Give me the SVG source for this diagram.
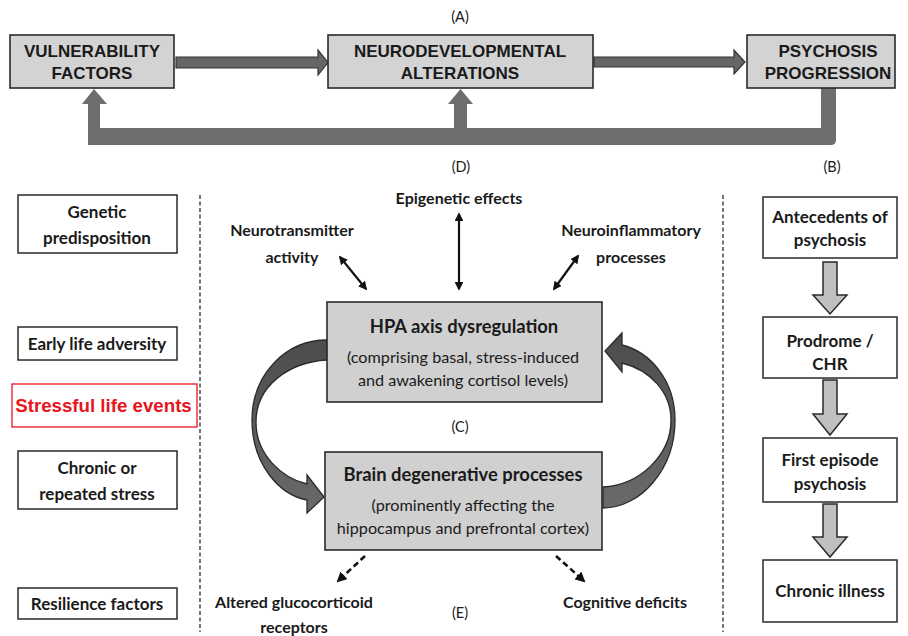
<svg xmlns="http://www.w3.org/2000/svg" width="908" height="636" viewBox="0 0 908 636">
<style>
.bg{fill:#ffffff}
.topbox{fill:#d3d3d3;stroke:#2a2a2a;stroke-width:1.6}
.wbox{fill:#ffffff;stroke:#2a2a2a;stroke-width:1.5}
.gbox{fill:#d0d0d0;stroke:#2a2a2a;stroke-width:1.6}
.tA{font-family:"Liberation Sans",Arial,sans-serif;font-weight:bold;font-size:17px;fill:#1a1a1a;text-anchor:middle}
.tC{font-family:Lato,"Open Sans",sans-serif;font-weight:bold;font-size:17px;fill:#1a1a1a;text-anchor:middle}
.tL{font-family:Lato,"Open Sans",sans-serif;font-weight:bold;font-size:16px;fill:#1a1a1a;text-anchor:middle}
.tT{font-family:Lato,"Open Sans",sans-serif;font-weight:bold;font-size:18.4px;fill:#1a1a1a;text-anchor:middle}
.tR{font-family:Lato,"Open Sans",sans-serif;font-size:16.2px;fill:#1a1a1a;text-anchor:middle}
.lab{font-family:Lato,"Open Sans",sans-serif;font-size:14.5px;fill:#1a1a1a;text-anchor:middle}
.red{font-family:"Liberation Sans",Arial,sans-serif;font-weight:bold;font-size:18.7px;fill:#e8141c;text-anchor:middle}
.harrow{fill:#666666;stroke:#333333;stroke-width:1.2}
.fb{fill:#6e6e6e}
.varrow{fill:#c0c0c0;stroke:#2a2a2a;stroke-width:1.5}
.dash{stroke:#2a2a2a;stroke-width:1.3;stroke-dasharray:4 2.5;fill:none}
.dbl{stroke:#111;stroke-width:2.2;fill:none;marker-start:url(#ah);marker-end:url(#ah)}
.dsh{stroke:#111;stroke-width:2.6;stroke-dasharray:6 3.5;fill:none;marker-end:url(#ah)}
.curve{fill:url(#cg);stroke:#2a2a2a;stroke-width:1.3}
</style>
<defs>
<marker id="ah" viewBox="0 0 10 10" refX="8" refY="5" markerWidth="4" markerHeight="4" orient="auto-start-reverse" markerUnits="strokeWidth">
<path d="M0,0 L10,5 L0,10 Z" fill="#111"/>
</marker>
<linearGradient id="cg" x1="0" y1="0" x2="0" y2="1">
<stop offset="0" stop-color="#4c4c4c"/>
<stop offset="1" stop-color="#6a6a6a"/>
</linearGradient>
</defs>
<rect class="bg" x="0" y="0" width="908" height="636"/>

<text class="lab" x="460" y="22">(A)</text>
<text class="lab" x="461" y="172">(D)</text>
<text class="lab" x="832" y="172">(B)</text>
<text class="lab" x="460" y="432">(C)</text>
<text class="lab" x="460" y="618">(E)</text>

<g id="connectors">
<path class="harrow" d="M176,57 L318,57 L318,50 L328,62.5 L318,75 L318,68 L176,68 Z"/>
<path class="harrow" d="M594,57 L734,57 L734,50 L745,62 L734,74 L734,67 L594,67 Z"/>
<path class="fb" d="M821,88 L836,88 L836,140 Q836,145 831,145 L88,145 L88,104 L82,104 L94,89 L107,104 L100,104 L100,128 L454,128 L454,104 L448,104 L460.5,89 L473,104 L467,104 L467,128 L821,128 Z"/>
<line class="dash" x1="200" y1="195" x2="200" y2="632"/>
<line class="dash" x1="723" y1="195" x2="723" y2="632"/>
<line class="dbl" x1="459" y1="214" x2="459" y2="289"/>
<line class="dbl" x1="340" y1="257" x2="366" y2="289"/>
<line class="dbl" x1="578" y1="256" x2="554" y2="289"/>
<line class="dsh" x1="365" y1="556" x2="338" y2="581"/>
<line class="dsh" x1="556" y1="556" x2="584" y2="581"/>
<path class="curve" d="M327,340 C285,340 252,375 252,420 C252,465 280,495 307,500 L307,513 L324,497 L307,475 L307,484 C282,478 256,455 256,422 C256,385 290,362 327,360 Z"/>
<path class="curve" d="M603,508 C640,508 675,470 675,420 C675,380 650,352 622,345 L622,333 L605,351 L622,372 L622,363 C650,370 671,392 671,420 C671,455 640,485 603,487 Z"/>
<path class="varrow" d="M823,262 L837,262 L837,295 L847,295 L830,314 L813,295 L823,295 Z"/>
<path class="varrow" d="M823,380 L837,380 L837,414 L847,414 L830,435 L813,414 L823,414 Z"/>
<path class="varrow" d="M823,504 L837,504 L837,537 L847,537 L830,557 L813,537 L823,537 Z"/>
</g>

<g id="vulnerability">
<rect class="topbox" x="10" y="35" width="164" height="53"/>
<text class="tA" x="92" y="57">VULNERABILITY</text>
<text class="tA" x="92" y="79">FACTORS</text>
</g>
<g id="neurodevelopmental">
<rect class="topbox" x="328" y="35" width="265" height="53"/>
<text class="tA" x="460" y="57">NEURODEVELOPMENTAL</text>
<text class="tA" x="460" y="79">ALTERATIONS</text>
</g>
<g id="psychosis-progression">
<rect class="topbox" x="747" y="35" width="148" height="53"/>
<text class="tA" x="828" y="57">PSYCHOSIS</text>
<text class="tA" x="828" y="79">PROGRESSION</text>
</g>

<g id="genetic">
<rect class="wbox" x="18" y="195" width="159" height="58"/>
<text class="tC" x="97" y="218">Genetic</text>
<text class="tC" x="97" y="244">predisposition</text>
</g>
<g id="early-life">
<rect class="wbox" x="18" y="327" width="159" height="33"/>
<text class="tC" x="97" y="350">Early life adversity</text>
</g>
<g id="stressful">
<rect x="12" y="384" width="185" height="43" fill="#ffffff" stroke="#e8141c" stroke-width="1.3"/>
<text class="red" x="103.5" y="412">Stressful life events</text>
</g>
<g id="chronic-stress">
<rect class="wbox" x="18" y="451" width="159" height="58"/>
<text class="tC" x="97" y="474">Chronic or</text>
<text class="tC" x="97" y="500">repeated stress</text>
</g>
<g id="resilience">
<rect class="wbox" x="18" y="588" width="159" height="31"/>
<text class="tC" x="97" y="610">Resilience factors</text>
</g>

<g id="epigenetic"><text class="tL" x="459" y="204">Epigenetic effects</text></g>
<g id="neurotransmitter">
<text class="tL" x="292" y="236">Neurotransmitter</text>
<text class="tL" x="292" y="263">activity</text>
</g>
<g id="neuroinflammatory">
<text class="tL" x="631" y="236">Neuroinflammatory</text>
<text class="tL" x="631" y="263">processes</text>
</g>

<g id="hpa">
<rect class="gbox" x="327" y="302" width="275" height="100"/>
<text class="tT" x="464" y="333">HPA axis dysregulation</text>
<text class="tR" x="463" y="363">(comprising basal, stress-induced</text>
<text class="tR" x="463" y="386">and awakening cortisol levels)</text>
</g>
<g id="brain">
<rect class="gbox" x="325" y="452" width="277" height="98"/>
<text class="tT" x="463" y="481">Brain degenerative processes</text>
<text class="tR" x="463" y="511">(prominently affecting the</text>
<text class="tR" x="463" y="534">hippocampus and prefrontal cortex)</text>
</g>

<g id="glucocorticoid">
<text class="tL" x="294" y="608">Altered glucocorticoid</text>
<text class="tL" x="294" y="633">receptors</text>
</g>
<g id="cognitive"><text class="tL" x="625" y="608">Cognitive deficits</text></g>

<g id="antecedents">
<rect class="wbox" x="763" y="197" width="134" height="61"/>
<text class="tC" x="830" y="223">Antecedents of</text>
<text class="tC" x="830" y="246">psychosis</text>
</g>
<g id="prodrome">
<rect class="wbox" x="763" y="317" width="134" height="61"/>
<text class="tC" x="830" y="347">Prodrome /</text>
<text class="tC" x="830" y="370">CHR</text>
</g>
<g id="first-episode">
<rect class="wbox" x="763" y="438" width="134" height="64"/>
<text class="tC" x="830" y="466">First episode</text>
<text class="tC" x="830" y="490">psychosis</text>
</g>
<g id="chronic-illness">
<rect class="wbox" x="763" y="560" width="134" height="62"/>
<text class="tC" x="830" y="597">Chronic illness</text>
</g>
</svg>
